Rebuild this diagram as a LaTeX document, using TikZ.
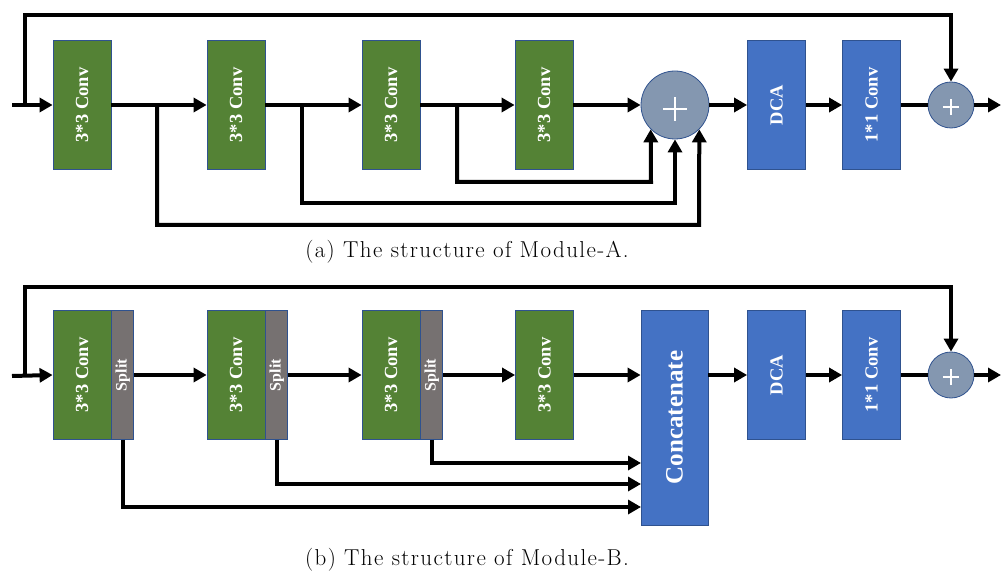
\documentclass[tikz,border=0pt]{standalone}
\usepackage{fontspec}
\usepackage{graphicx}
\usetikzlibrary{arrows.meta,calc}
\newfontfamily\boxfont{Liberation Serif}
\newfontfamily\capfont[LetterSpace=6]{Latin Modern Roman}
\definecolor{convgreen}{HTML}{548235}
\definecolor{boxblue}{HTML}{4472C4}
\definecolor{splitgray}{HTML}{767171}
\definecolor{circfill}{HTML}{8497B0}
\definecolor{edgeblue}{HTML}{2F528F}
\begin{document}
\begin{tikzpicture}[x=1pt,y=-1pt,
  blk/.style={draw=edgeblue, line width=0.8pt, inner sep=0pt, text=white,
    font=\boxfont\bfseries\fontsize{18.5}{18.5}\selectfont,
    minimum width=58pt, minimum height=129pt},
  conv/.style={blk, fill=convgreen},
  bluebox/.style={blk, fill=boxblue},
  splitbox/.style={blk, fill=splitgray, minimum width=22pt,
    font=\boxfont\bfseries\fontsize{16}{16}\selectfont},
  sumnode/.style={circle, draw=edgeblue, line width=0.8pt, fill=circfill, inner sep=0pt},
  flow/.style={line width=4pt, -{Triangle[length=13pt,width=14pt]}},
  wire/.style={line width=4pt},
  plusline/.style={white, line width=2pt},
  captext/.style={font=\capfont\fontsize{23}{23}\selectfont, inner sep=0pt, anchor=base}
]
\useasboundingbox (0,0) rectangle (1001,572);

% ---------------- Module A ----------------
\node[conv] (a1) at (82,105) {\rotatebox{90}{3*3 Conv}};
\node[conv] (a2) at (236,105) {\rotatebox{90}{3*3 Conv}};
\node[conv] (a3) at (391,105) {\rotatebox{90}{3*3 Conv}};
\node[conv] (a4) at (544,105) {\rotatebox{90}{3*3 Conv}};
\node[sumnode, minimum size=68pt] (pa) at (675,105) {};
\node[bluebox] (dcaA) at (776.5,105) {\rotatebox{90}{DCA}};
\node[bluebox] (c1A) at (871.5,105) {\rotatebox{90}{1*1 Conv}};
\node[sumnode, minimum size=46pt] (sa) at (951,105) {};
\draw[plusline] ([xshift=-12pt,yshift=-4pt]pa.center) -- ([xshift=12pt,yshift=-4pt]pa.center);
\draw[plusline] ([yshift=-16pt]pa.center) -- ([yshift=8pt]pa.center);
\draw[plusline] ([xshift=-8pt,yshift=-2pt]sa.center) -- ([xshift=8pt,yshift=-2pt]sa.center);
\draw[plusline] ([yshift=-10pt]sa.center) -- ([yshift=6pt]sa.center);

\coordinate (inA) at (12,105);
\coordinate (loopA) at (25,105);
\coordinate (topA) at (951,15);
\coordinate (outA) at (1001,105);
\draw[flow] (inA) -- (a1.west);
\draw[flow] (loopA) |- (topA) -- (sa.north);
\draw[flow] (a1.east) -- (a2.west);
\draw[flow] (a2.east) -- (a3.west);
\draw[flow] (a3.east) -- (a4.west);
\draw[flow] (a4.east) -- (pa.west);
\draw[flow] (pa.east) -- (dcaA.west);
\draw[flow] (dcaA.east) -- (c1A.west);
\draw[wire] (c1A.east) -- (sa.west);
\draw[flow] (sa.east) -- (outA);

\coordinate (ba1) at (157,105);
\coordinate (ba2) at (302,105);
\coordinate (ba3) at (457,105);
\coordinate (ra1) at (699,225);
\coordinate (ra2) at (675,203);
\coordinate (ra3) at (651,182);
\draw[flow] (ba1) |- (ra1) -- (pa.-45);
\draw[flow] (ba2) |- (ra2) -- (pa.south);
\draw[flow] (ba3) |- (ra3) -- (pa.-135);

\node[captext] (capA) at (467,257) {(a) The structure of Module-A.};

% ---------------- Module B ----------------
\node[conv] (b1) at (82,375) {\rotatebox{90}{3*3 Conv}};
\node[splitbox, anchor=west] (s1) at (b1.east) {\rotatebox{90}{Split}};
\node[conv] (b2) at (236,375) {\rotatebox{90}{3*3 Conv}};
\node[splitbox, anchor=west] (s2) at (b2.east) {\rotatebox{90}{Split}};
\node[conv] (b3) at (391,375) {\rotatebox{90}{3*3 Conv}};
\node[splitbox, anchor=west] (s3) at (b3.east) {\rotatebox{90}{Split}};
\node[conv] (b4) at (544.5,375) {\rotatebox{90}{3*3 Conv}};
\node[bluebox, minimum width=67pt, minimum height=215pt,
  font=\boxfont\bfseries\fontsize{25}{25}\selectfont] (cat) at (674.5,417.5) {\rotatebox{90}{Concatenate}};
\node[bluebox] (dcaB) at (776.5,375) {\rotatebox{90}{DCA}};
\node[bluebox] (c1B) at (871.5,375) {\rotatebox{90}{1*1 Conv}};
\node[sumnode, minimum size=46pt] (sb) at (951,375) {};
\draw[plusline] ([xshift=-8pt,yshift=-2pt]sb.center) -- ([xshift=8pt,yshift=-2pt]sb.center);
\draw[plusline] ([yshift=-10pt]sb.center) -- ([yshift=6pt]sb.center);

\coordinate (inB) at (12,376);
\coordinate (loopB) at (25,376);
\coordinate (topB) at (951,287);
\coordinate (outB) at (1001,375);
\draw[flow] (inB) -- (b1.west);
\draw[flow] (loopB) |- (topB) -- (sb.north);
\draw[flow] (s1.east) -- (b2.west);
\draw[flow] (s2.east) -- (b3.west);
\draw[flow] (s3.east) -- (b4.west);
\draw[flow] (b4.east) -- (cat.west |- b4.east);
\draw[flow] (cat.east |- dcaB.west) -- (dcaB.west);
\draw[flow] (dcaB.east) -- (c1B.west);
\draw[wire] (c1B.east) -- (sb.west);
\draw[flow] (sb.east) -- (outB);

\coordinate (k3) at (641,463);
\coordinate (k2) at (641,484);
\coordinate (k1) at (641,507);
\draw[flow] (s3.south) |- (k3);
\draw[flow] (s2.south) |- (k2);
\draw[flow] (s1.south) |- (k1);

\node[captext] (capB) at (467,565) {(b) The structure of Module-B.};
\end{tikzpicture}
\end{document}
